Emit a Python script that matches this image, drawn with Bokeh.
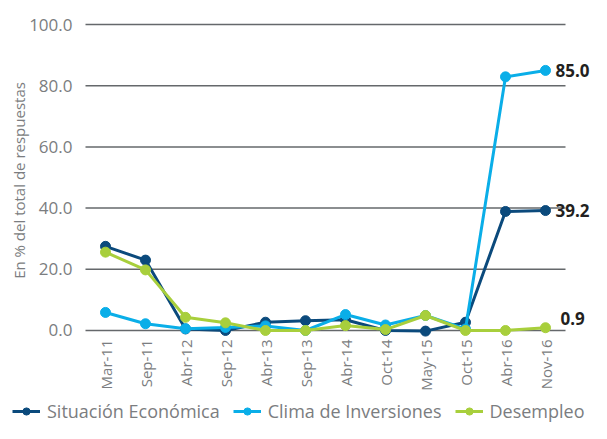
import math
from bokeh.plotting import figure
from bokeh.models import ColumnDataSource, Range1d, Legend, LegendItem
from bokeh.core.properties import value
from bokeh.embed import file_html
from bokeh.resources import INLINE

categories = ["Mar-11", "Sep-11", "Abr-12", "Sep-12", "Abr-13", "Sep-13",
              "Abr-14", "Oct-14", "May-15", "Oct-15", "Abr-16", "Nov-16"]
situacion = [27.5, 23.0, 0.5, 0.0, 2.7, 3.2, 3.5, 0.0, -0.2, 2.7, 38.9, 39.2]
clima = [5.9, 2.2, 0.6, 1.0, 1.5, 0.0, 5.2, 1.8, 4.9, 0.5, 82.9, 85.0]
desempleo = [25.6, 19.8, 4.3, 2.5, 0.0, 0.0, 1.6, 0.3, 4.9, 0.0, 0.0, 0.9]
series_names = ["Situación Económica", "Clima de Inversiones", "Desempleo"]
y_ticks = [0, 20, 40, 60, 80, 100]
y_title = "En % del total de respuestas"

colors = ["#0b4a7c", "#0aaee8", "#a8cf3c"]
FONT = "Open Sans"
GRAY = "#7b7d80"

n = len(categories)
xs = list(range(n))

# whole canvas is the plotting frame; axes are drawn as text glyphs
p = figure(width=591, height=423, output_backend="svg", toolbar_location=None,
           x_range=Range1d(-2.625, 12.15), y_range=Range1d(-30.4, 107.85),
           min_border_left=0, min_border_right=0, min_border_top=0,
           min_border_bottom=0)
p.outline_line_color = None
p.background_fill_color = "white"
p.border_fill_color = "white"
p.xaxis.visible = False
p.yaxis.visible = False
p.xgrid.grid_line_color = None
p.ygrid.grid_line_color = None

# horizontal gridlines
p.segment(x0=-0.5, x1=n - 0.5, y0=y_ticks, y1=y_ticks,
          line_color="#65686b", line_width=1.5)

# y tick labels
p.text(x=[-0.5] * len(y_ticks), y=y_ticks, text=["%.1f" % t for t in y_ticks],
       x_offset=-13, text_font=value(FONT), text_font_size="17px",
       text_color=GRAY, text_align="right", text_baseline="middle")
# y axis title
p.text(x=[-0.5], y=[(y_ticks[0] + y_ticks[-1]) / 2], text=[y_title],
       x_offset=-67, y_offset=3, angle=math.pi / 2,
       text_font=value(FONT), text_font_size="15px",
       text_color=GRAY, text_align="center", text_baseline="middle")
# x tick labels
p.text(x=xs, y=[y_ticks[0]] * n, text=categories, y_offset=9, angle=math.pi / 2,
       text_font=value(FONT), text_font_size="15px",
       text_color=GRAY, text_align="right", text_baseline="middle")

items = []
for name, vals, c in zip(series_names, [situacion, clima, desempleo], colors):
    src = ColumnDataSource(dict(x=xs, y=vals))
    ln = p.line("x", "y", source=src, line_color=c, line_width=3)
    sc = p.scatter("x", "y", source=src, size=10, fill_color=c, line_color=c)
    items.append(LegendItem(label=name, renderers=[ln, sc]))

lab_src = ColumnDataSource(dict(
    x=[xs[-1]] * 3,
    y=[clima[-1], situacion[-1], desempleo[-1]],
    text=["%.1f" % clima[-1], "%.1f" % situacion[-1], "%.1f" % desempleo[-1]],
    xo=[10, 10, 15], yo=[0, 0, -9]))
p.text(x="x", y="y", text="text", source=lab_src, x_offset="xo", y_offset="yo",
       text_font=value("Noto Sans"), text_font_size="17px", text_font_style="bold",
       text_color="#231f20", text_baseline="middle", text_align="left")

legend = Legend(items=items, orientation="horizontal", location=(12, 0),
                glyph_width=28, glyph_height=18, label_standoff=7, spacing=13,
                padding=0, margin=0, border_line_color=None,
                background_fill_alpha=0,
                label_text_font=FONT, label_text_font_size="18px",
                label_text_color=GRAY)
p.add_layout(legend, "center")

open("out.html", "w").write(file_html(p, INLINE))
